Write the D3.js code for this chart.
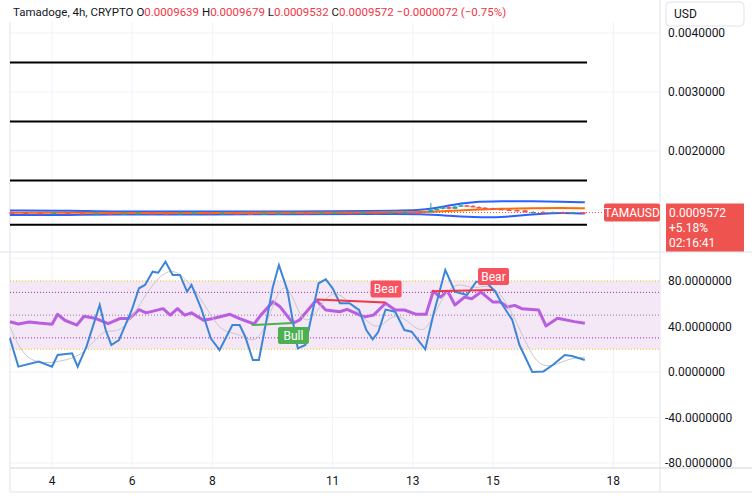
<!DOCTYPE html>
<html><head><meta charset="utf-8">
<script src="https://cdn.jsdelivr.net/npm/d3@7"></script>
<style>body{margin:0;background:#fff;font-family:Roboto,"Noto Sans",sans-serif}</style>
</head><body>
<svg id="chart" width="752" height="500"></svg>
<script>
const svg = d3.select("#chart");

// time ticks (days of month)
const tickDays = [4, 6, 8, 11, 13, 15, 18];
// price pane
const priceTicks = [0.004, 0.003, 0.002];
const levelLines = [0.0035, 0.0025, 0.0015, 0.00075];
const candleDays = [3.0,3.35,3.7,4.05,4.4,4.75,5.1,5.45,5.8,6.15,6.5,6.85,7.2,7.55,7.9,8.25,8.6,8.95,9.3,9.65,10.0,10.35,10.7,11.05,11.4,11.75,12.1,12.45,12.8,13.15,13.45,13.6,13.75,13.9,14.05,14.2,14.35,14.5,14.65,14.8,15.0,15.2,15.4,15.6,15.8,16.0,16.25,16.5,16.75,17.0,17.25];
const opens  = [.000960,.000955,.000950,.000945,.000950,.000948,.000942,.000946,.000940,.000944,.000948,.000945,.000940,.000946,.000950,.000944,.000948,.000942,.000938,.000944,.000948,.000952,.000946,.000950,.000956,.000952,.000958,.000955,.000960,.000965,.000962,.001000,.001020,.001050,.001020,.001060,.001080,.001070,.001050,.001040,.001030,.001020,.001010,.001000,.000995,.000960,.000968,.000962,.000966,.000960,.000962];
const closes = [.000955,.000950,.000945,.000950,.000948,.000942,.000946,.000940,.000944,.000948,.000945,.000940,.000946,.000950,.000944,.000948,.000942,.000938,.000944,.000948,.000952,.000946,.000950,.000956,.000952,.000958,.000955,.000960,.000965,.000962,.001000,.001020,.001050,.001020,.001060,.001080,.001070,.001050,.001040,.001030,.001020,.001010,.001000,.000995,.000960,.000968,.000962,.000966,.000960,.000962,.000957];
const highs  = [.000975,.000968,.000962,.000960,.000962,.000958,.000958,.000955,.000956,.000960,.000958,.000955,.000958,.000962,.000958,.000960,.000955,.000952,.000955,.000962,.000965,.000960,.000962,.000968,.000965,.000970,.000968,.000972,.000990,.000980,.001120,.001030,.001060,.001070,.001075,.001130,.001090,.001085,.001065,.001050,.001040,.001030,.001020,.001010,.001005,.000980,.000980,.000975,.000975,.000972,.000968];
const lows   = [.000945,.000940,.000935,.000935,.000940,.000935,.000935,.000932,.000932,.000935,.000935,.000932,.000935,.000940,.000935,.000938,.000932,.000925,.000930,.000935,.000940,.000938,.000940,.000945,.000945,.000948,.000948,.000950,.000955,.000955,.000958,.000990,.001010,.001010,.001015,.001055,.001060,.001045,.001035,.001025,.001015,.001005,.000995,.000985,.000955,.000940,.000950,.000955,.000950,.000950,.000953];
const bbDays  = [2.95,4.5,5.5,8,10,12,13.3,13.9,14.5,15.2,16,16.7,17.29];
const bbUpper = [.000990,.000990,.000970,.000975,.000975,.000985,.000990,.001080,.001140,.001150,.001150,.001140,.001130];
const bbLower = [.000915,.000915,.000925,.000925,.000928,.000930,.000935,.000900,.000880,.000870,.000930,.000955,.000940];
const bbMid   = [.000955,.000955,.000948,.000950,.000952,.000958,.000962,.000985,.001005,.001020,.001030,.001035,.001030];
const lastPrice = 0.0009572;

// oscillator pane
const oscTicks = [80, 40, 0, -40, -80];
const kDays = [2.95,3.16,3.67,4.0,4.14,4.5,4.64,4.86,5.19,5.34,5.48,5.67,5.99,6.17,6.32,6.51,6.65,6.83,7.01,7.19,7.37,7.48,7.72,7.96,8.18,8.5,8.68,8.82,9.01,9.16,9.51,9.66,9.87,10.13,10.32,10.65,10.83,11.0,11.18,11.42,11.66,11.84,12.0,12.14,12.32,12.56,12.79,12.97,13.31,13.51,13.81,14.05,14.35,14.58,14.82,15.06,15.24,15.48,15.66,15.98,16.26,16.49,16.79,16.97,17.29];
const kVals = [29.6,4.7,9.1,4.7,14.9,16.4,4.7,22.3,58.9,36.9,23.7,28.1,54.5,73.6,76.5,88.2,87.3,97,85.3,85.3,70.6,76.5,56,29.6,19.3,41.3,41.3,31,10.5,10.5,75,94,72,20.8,23.7,78,81.5,73.6,60.4,60.4,54.5,36.9,28.7,35.4,54.9,53,36.9,35.4,20,50.1,89.7,70.6,67.7,79.4,79.4,70.6,58.9,45.7,23.7,0,0.5,6.2,14.9,14,10.5];
const dDays = [2.95,3.3,3.8,4.3,4.8,5.3,5.7,6.2,6.6,7.0,7.4,7.8,8.2,8.6,9.0,9.3,9.7,10.0,10.3,10.8,11.1,11.5,11.9,12.2,12.5,12.9,13.3,13.7,14.1,14.5,14.9,15.3,15.7,16.1,16.5,16.9,17.29];
const dVals = [40,12,7,10,15,40,32,60,82,92,80,60,35,35,25,35,80,70,35,65,72,58,42,38,52,45,30,65,80,72,78,65,35,5,5,12,13];
const rsiDays = [2.95,3.16,3.43,3.67,4.0,4.14,4.32,4.62,4.8,5.1,5.4,5.69,5.93,6.17,6.35,6.77,6.95,7.13,7.31,7.48,7.78,8.02,8.44,8.68,9.04,9.21,9.51,9.69,10.01,10.17,10.59,10.83,11.18,11.36,11.78,12.02,12.32,12.56,12.79,13.09,13.33,13.51,13.69,13.87,14.05,14.29,14.47,14.7,15.0,15.18,15.36,15.54,15.72,16.14,16.32,16.61,17.03,17.29];
const rsiVals = [44.2,42.2,44,43,42,50.7,45.5,41.3,49,47,42.5,47,47,54.8,52,55.7,50,55.7,50,52,45.5,47,50.7,47,42.2,50,61.8,57.3,43,45.5,63.2,54.5,53,55,48.4,50,60.4,54.5,54.5,50.7,50.7,71,65.8,71,58.9,65.8,64.4,70.3,61.5,61.5,57.1,58.6,55.7,54.5,40.5,47.2,44.3,42.8];
const divergences = [
  {type: "Bull", d0: 8.98, v0: 41.3, d1: 10.01, v1: 43, color: "#4caf50"},
  {type: "Bear", d0: 10.61, v0: 63.8, d1: 12.32, v1: 61, color: "#f23645"},
  {type: "Bear", d0: 13.47, v0: 71, d1: 15.0, v1: 72, color: "#f23645"}
];

const x = d3.scaleLinear().domain([4, 15]).range([52, 493]);
const yP = d3.scaleLinear().domain([0.002, 0.003]).range([151, 92]);
const yO = d3.scaleLinear().domain([0, 80]).range([372, 281]);
const plotR = 660;

// grids
const grid = svg.append("g").attr("stroke", "#f0f3fa");
tickDays.forEach(d => {
  grid.append("line").attr("x1", x(d)).attr("x2", x(d)).attr("y1", 0).attr("y2", 468);
});
[...priceTicks, 0.001].forEach(p => grid.append("line").attr("x1", 10).attr("x2", plotR).attr("y1", yP(p)).attr("y2", yP(p)));
[100, ...oscTicks].forEach(v => grid.append("line").attr("x1", 10).attr("x2", plotR).attr("y1", yO(v)).attr("y2", yO(v)));

// panes borders
svg.append("line").attr("x1", 0).attr("x2", 752).attr("y1", 252).attr("y2", 252).attr("stroke", "#e0e3eb");
svg.append("line").attr("x1", 10).attr("x2", 752).attr("y1", 468).attr("y2", 468).attr("stroke", "#d1d4dc");
svg.append("line").attr("x1", plotR).attr("x2", plotR).attr("y1", 0).attr("y2", 492).attr("stroke", "#e0e3eb");
svg.append("line").attr("x1", 10).attr("x2", 10).attr("y1", 0).attr("y2", 492).attr("stroke", "#e0e3eb");
svg.append("line").attr("x1", 10).attr("x2", 752).attr("y1", 492).attr("y2", 492).attr("stroke", "#e0e3eb");

// black level lines
levelLines.forEach(p => svg.append("line").attr("x1", 10).attr("x2", 587).attr("y1", yP(p)).attr("y2", yP(p)).attr("stroke", "#000").attr("stroke-width", 2));

// bollinger bands
const bbLine = arr => d3.line().curve(d3.curveBasis).x((d, i) => x(bbDays[i])).y(d => yP(d))(arr);
svg.append("path").attr("d", bbLine(bbUpper)).attr("fill", "none").attr("stroke", "#2962ff").attr("stroke-width", 2);
svg.append("path").attr("d", bbLine(bbLower)).attr("fill", "none").attr("stroke", "#2962ff").attr("stroke-width", 2);
svg.append("path").attr("d", bbLine(bbMid)).attr("fill", "none").attr("stroke", "#ff6d00").attr("stroke-width", 2);

// candles
candleDays.forEach((d, i) => {
  const up = closes[i] >= opens[i], c = up ? "#26a69a" : "#ef5350";
  svg.append("line").attr("x1", x(d)).attr("x2", x(d)).attr("y1", yP(highs[i])).attr("y2", yP(lows[i])).attr("stroke", c);
  const y0 = yP(Math.max(opens[i], closes[i])), y1 = yP(Math.min(opens[i], closes[i]));
  svg.append("rect").attr("x", x(d) - 2.5).attr("width", 5).attr("y", y0).attr("height", Math.max(1.5, y1 - y0)).attr("fill", c);
});

// last price
svg.append("line").attr("x1", 10).attr("x2", plotR).attr("y1", yP(lastPrice)).attr("y2", yP(lastPrice))
  .attr("stroke", "#ef5350").attr("stroke-dasharray", "1,2");

// oscillator bands
svg.append("rect").attr("x", 10).attr("width", plotR - 10).attr("y", yO(80)).attr("height", yO(20) - yO(80)).attr("fill", "#f3e5f5").attr("opacity", 0.9);
[[80, "#f5c400"], [20, "#f5c400"], [70, "#9c27b0"], [30, "#9c27b0"], [50, "#9575a0"]].forEach(([v, c]) => {
  svg.append("line").attr("x1", 10).attr("x2", plotR).attr("y1", yO(v)).attr("y2", yO(v)).attr("stroke", c).attr("stroke-dasharray", "1,2");
});

const lineOf = (days, vals) => d3.line().x((d, i) => x(days[i])).y(d => yO(d))(vals);
svg.append("path").attr("d", lineOf(rsiDays, rsiVals)).attr("fill", "none").attr("stroke", "#b95ee0").attr("stroke-width", 3).attr("stroke-linejoin", "round");
svg.append("path").attr("d", d3.line().curve(d3.curveBasis).x((d, i) => x(dDays[i])).y(d => yO(d))(dVals)).attr("fill", "none").attr("stroke", "#c8c8c8").attr("stroke-width", 1);
svg.append("path").attr("d", lineOf(kDays, kVals)).attr("fill", "none").attr("stroke", "#3d85d8").attr("stroke-width", 2);

// divergences
divergences.forEach(dv => {
  svg.append("line").attr("x1", x(dv.d0)).attr("x2", x(dv.d1)).attr("y1", yO(dv.v0)).attr("y2", yO(dv.v1)).attr("stroke", dv.color).attr("stroke-width", 2);
  const bull = dv.type === "Bull";
  const lx = x(dv.d1) - 15;
  const ly = bull ? yO(dv.v1) + 4 : yO(dv.v1) - 22;
  const g = svg.append("g");
  g.append("rect").attr("x", lx).attr("y", ly).attr("width", 31).attr("height", 17).attr("rx", 2).attr("fill", bull ? "#4caf50" : "#f7525f");
  g.append("text").attr("x", lx + 15.5).attr("y", ly + 12.5).attr("text-anchor", "middle").attr("fill", "#fff").attr("font-size", 12).text(dv.type);
});

// axes labels
priceTicks.forEach(p => svg.append("text").attr("x", 668).attr("y", yP(p) + 4).attr("font-size", 12).attr("fill", "#131722").text(p.toFixed(7)));
oscTicks.forEach(v => svg.append("text").attr("x", v < 0 ? 665 : 668).attr("y", yO(v) + 4).attr("font-size", 12).attr("fill", "#131722").text(v.toFixed(7)));
tickDays.forEach(d => svg.append("text").attr("x", x(d)).attr("y", 485).attr("text-anchor", "middle").attr("font-size", 12).attr("fill", "#131722").text(d));

// header
svg.append("rect").attr("x", 0).attr("y", 0).attr("width", 659).attr("height", 22).attr("fill", "#fff");
const hdr = svg.append("text").attr("x", 13).attr("y", 16).attr("font-size", 11.5).attr("fill", "#131722");
hdr.append("tspan").text("Tamadoge, 4h, CRYPTO ");
[["O", "0.0009639"], ["H", "0.0009679"], ["L", "0.0009532"], ["C", "0.0009572"]].forEach(([k, v]) => {
  hdr.append("tspan").text(" " + k);
  hdr.append("tspan").attr("fill", "#f23645").text(v);
});
hdr.append("tspan").attr("fill", "#f23645").text("  −0.0000072 (−0.75%)");

// USD box
svg.append("rect").attr("x", 666).attr("y", 2).attr("width", 78).attr("height", 24).attr("rx", 4).attr("fill", "#fff").attr("stroke", "#e0e3eb");
svg.append("text").attr("x", 674).attr("y", 18).attr("font-size", 12).attr("fill", "#131722").text("USD");

// price labels
const py = yP(lastPrice);
svg.append("rect").attr("x", 604).attr("y", py - 9).attr("width", 56).attr("height", 18).attr("rx", 2).attr("fill", "#ef5350");
svg.append("text").attr("x", 632).attr("y", py + 4).attr("text-anchor", "middle").attr("font-size", 12).attr("fill", "#fff").text("TAMAUSD");
svg.append("rect").attr("x", 666).attr("y", py - 9).attr("width", 78).attr("height", 48).attr("fill", "#ef5350");
["0.0009572", "+5.18%", "02:16:41"].forEach((t, i) => svg.append("text").attr("x", 669).attr("y", py + 4 + i * 15).attr("font-size", 12).attr("fill", "#fff").text(t));
</script>
</body></html>
